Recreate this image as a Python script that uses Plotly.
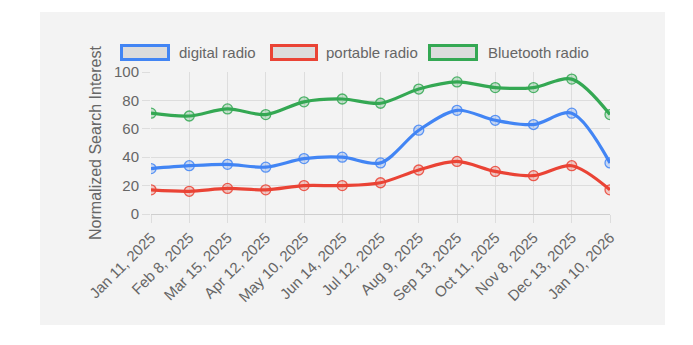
import plotly.graph_objects as go

# Weekly search interest, normalized to 0-100
dates = ["Jan 11, 2025", "Feb 8, 2025", "Mar 15, 2025", "Apr 12, 2025", "May 10, 2025",
         "Jun 14, 2025", "Jul 12, 2025", "Aug 9, 2025", "Sep 13, 2025", "Oct 11, 2025",
         "Nov 8, 2025", "Dec 13, 2025", "Jan 10, 2026"]
digital_radio = [32, 34, 35, 33, 39, 40, 36, 59, 73, 66, 63, 71, 36]
portable_radio = [17, 16, 18, 17, 20, 20, 22, 31, 37, 30, 27, 34, 17]
bluetooth_radio = [71, 69, 74, 70, 79, 81, 78, 88, 93, 89, 89, 95, 70]

series = [
    ("digital radio", digital_radio, "66,133,244"),
    ("portable radio", portable_radio, "234,67,53"),
    ("Bluetooth radio", bluetooth_radio, "52,168,83"),
]

FONT = "Liberation Sans, Arial, Helvetica, sans-serif"
TEXT = "#666666"
GRID = "#dddddd"

fig = go.Figure()
for name, vals, rgb in series:
    fig.add_trace(go.Scatter(
        x=dates, y=vals, name=name, mode="lines+markers",
        line=dict(color=f"rgb({rgb})", width=3.2, shape="spline", smoothing=0.9),
        marker=dict(size=10, color=f"rgba({rgb},0.25)",
                    line=dict(color=f"rgba({rgb},0.85)", width=1.3)),
        showlegend=False,
    ))

# Custom legend: outlined swatch boxes followed by labels
legend_items = [(120, 170, 177), (270, 318, 324), (428, 478, 486)]
W, H = 693, 345
L, R, T, B = 151, 83, 72, 131
pw, ph = W - L - R, H - T - B


def px(x):
    return (x - L) / pw


def py(y):
    return (H - B - y) / ph


shapes = [dict(type="rect", xref="paper", yref="paper", layer="below",
               x0=px(40), x1=px(665), y0=py(325), y1=py(12),
               fillcolor="#f3f3f3", line=dict(width=0))]
annotations = []
for (x0, x1, tx), (name, _, rgb) in zip(legend_items, series):
    shapes.append(dict(type="rect", xref="paper", yref="paper",
                       x0=px(x0 + 1.5), x1=px(x1 - 1.5), y0=py(59.5), y1=py(45.5),
                       fillcolor="#dcdcdc", line=dict(color=f"rgb({rgb})", width=3)))
    annotations.append(dict(text=name, xref="paper", yref="paper", x=px(tx), y=py(52),
                            xanchor="left", yanchor="middle", showarrow=False,
                            font=dict(family=FONT, size=15, color=TEXT)))

fig.update_layout(
    width=W, height=H,
    margin=dict(l=L, r=R, t=T, b=B, pad=0),
    paper_bgcolor="white", plot_bgcolor="rgba(0,0,0,0)",
    font=dict(family=FONT, size=15, color=TEXT),
    shapes=shapes, annotations=annotations,
    xaxis=dict(type="category", range=[0, len(dates) - 1], showgrid=True, gridcolor=GRID,
               gridwidth=1, ticks="outside", ticklen=8, tickcolor=GRID, tickangle=-45,
               tickfont=dict(size=15, color=TEXT), zeroline=False, showline=False,
               automargin=False),
    yaxis=dict(range=[0, 100], dtick=20, showgrid=True, gridcolor=GRID, gridwidth=1,
               ticks="outside", ticklen=8, tickcolor=GRID, zeroline=True,
               zerolinecolor="#cfcfcf", zerolinewidth=1,
               tickfont=dict(size=15, color=TEXT), automargin=False,
               title=dict(text="Normalized Search Interest", standoff=8,
                          font=dict(size=16, color=TEXT))),
)

fig.write_html("out.html")
